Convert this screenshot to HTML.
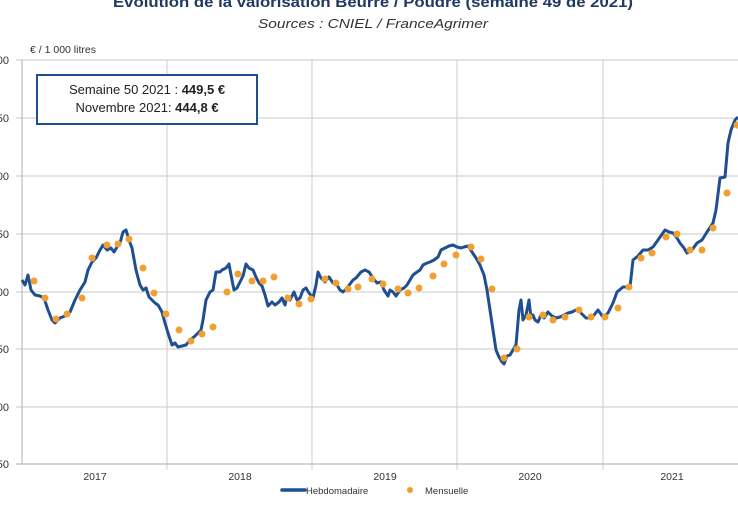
<!DOCTYPE html>
<html><head><meta charset="utf-8"><style>
html,body{margin:0;padding:0;background:#fff;}
svg{display:block;font-family:"Liberation Sans",sans-serif;}
</style></head><body>
<svg width="738" height="507" viewBox="0 0 738 507">
<text x="373" y="7" text-anchor="middle" font-size="14.5" font-weight="bold" fill="#1f3864" textLength="520" lengthAdjust="spacingAndGlyphs">Evolution de la valorisation Beurre / Poudre (semaine 49 de 2021)</text>
<text x="373" y="28" text-anchor="middle" font-size="13" font-style="italic" fill="#333" textLength="230" lengthAdjust="spacingAndGlyphs">Sources : CNIEL / FranceAgrimer</text>
<text x="30" y="53" font-size="10.5" fill="#333">€ / 1 000 litres</text>
<g stroke="#d4d4d4" stroke-width="1.2">
<line x1="16" y1="60" x2="738" y2="60"/><line x1="16" y1="118" x2="738" y2="118"/><line x1="16" y1="176" x2="738" y2="176"/><line x1="16" y1="234" x2="738" y2="234"/><line x1="16" y1="292" x2="738" y2="292"/><line x1="16" y1="349" x2="738" y2="349"/><line x1="16" y1="407" x2="738" y2="407"/>
<line x1="167" y1="60" x2="167" y2="470"/><line x1="312" y1="60" x2="312" y2="470"/><line x1="457" y1="60" x2="457" y2="470"/><line x1="603" y1="60" x2="603" y2="470"/>
</g>
<line x1="22" y1="60" x2="22" y2="464" stroke="#bbb" stroke-width="1.2"/>
<line x1="16" y1="464" x2="738" y2="464" stroke="#bbb" stroke-width="1.2"/>
<g font-size="11" fill="#333" text-anchor="end">
<text x="9" y="64">500</text><text x="9" y="122">450</text><text x="9" y="180">400</text><text x="9" y="238">350</text><text x="9" y="296">300</text><text x="9" y="353">250</text><text x="9" y="411">200</text><text x="9" y="468">150</text>
</g>
<g font-size="10.5" fill="#333" text-anchor="middle">
<text x="95" y="480">2017</text><text x="240" y="480">2018</text><text x="385" y="480">2019</text><text x="530" y="480">2020</text><text x="672" y="480">2021</text>
</g>
<line x1="282" y1="490" x2="305" y2="490" stroke="#1f4e91" stroke-width="3.5" stroke-linecap="round"/>
<text x="306" y="494" font-size="9.5" fill="#333">Hebdomadaire</text>
<circle cx="410" cy="490" r="3" fill="#f0a030"/>
<text x="425" y="494" font-size="9.5" fill="#333">Mensuelle</text>
<rect x="37" y="75" width="220" height="49" fill="#fff" stroke="#1f4e91" stroke-width="2"/>
<text x="147" y="94" text-anchor="middle" font-size="13" fill="#222">Semaine 50 2021 : <tspan font-weight="bold">449,5 €</tspan></text>
<text x="147" y="112" text-anchor="middle" font-size="13" fill="#222">Novembre 2021: <tspan font-weight="bold">444,8 €</tspan></text>
<polyline fill="none" stroke="#1f4e91" stroke-width="3" stroke-linejoin="round" points="22,280 25,285 28,275 31,290 35,295 40,296 44,298 48,310 52,320 55,323 60,318 65,316 70,312 75,300 80,290 85,282 88,270 92,262 96,258 100,250 103,245 107,250 111,248 114,252 117,247 120,243 123,232 126,230 129,240 132,248 136,270 140,285 143,290 146,288 149,297 152,300 155,303 158,305 162,312 165,323 168,333 172,345 175,343 178,347 182,346 186,345 190,340 194,337 198,333 201,330 203,320 206,300 210,292 213,290 216,272 220,272 222,270 226,268 229,264 231,275 234,290 237,288 240,282 243,276 246,264 249,268 253,270 256,277 259,283 262,286 265,295 268,306 272,302 275,305 279,302 282,298 285,305 287,296 290,300 294,292 297,300 300,298 303,290 306,288 309,293 313,298 316,285 318,272 321,278 325,282 329,277 333,283 337,285 340,290 343,292 347,288 350,284 353,280 356,278 361,272 365,270 369,272 373,278 377,283 381,282 384,290 388,296 390,290 393,292 396,296 400,290 404,288 407,285 410,280 413,275 417,272 420,270 423,265 427,263 430,262 434,260 438,257 441,250 445,248 449,246 453,245 457,247 461,248 464,247 468,246 472,252 476,258 480,265 484,275 487,290 490,310 493,330 496,350 499,357 502,362 504,364 507,356 510,355 513,350 516,345 519,310 521,300 523,320 526,315 529,300 531,318 533,315 535,320 538,322 541,315 544,318 548,312 552,316 556,318 560,317 564,315 568,313 572,312 576,310 579,311 582,314 586,318 590,318 594,315 598,310 603,317 608,313 613,303 617,292 623,287 630,287 633,260 638,256 643,250 648,250 653,247 658,240 665,230 669,232 673,233 677,238 680,243 684,248 687,253 692,250 697,243 702,240 707,232 713,223 716,210 720,178 725,177 728,143 731,130 735,120 738,117"/>
<g fill="#f0a030">
<circle cx="34" cy="281" r="3.5"/><circle cx="45" cy="298" r="3.5"/><circle cx="56" cy="319" r="3.5"/><circle cx="67" cy="314" r="3.5"/><circle cx="82" cy="298" r="3.5"/><circle cx="92" cy="258" r="3.5"/><circle cx="107" cy="245" r="3.5"/><circle cx="118" cy="244" r="3.5"/><circle cx="129" cy="239" r="3.5"/><circle cx="143" cy="268" r="3.5"/><circle cx="154" cy="293" r="3.5"/><circle cx="166" cy="314" r="3.5"/><circle cx="179" cy="330" r="3.5"/><circle cx="191" cy="341" r="3.5"/><circle cx="202" cy="334" r="3.5"/><circle cx="213" cy="327" r="3.5"/><circle cx="227" cy="292" r="3.5"/><circle cx="238" cy="274" r="3.5"/><circle cx="252" cy="281" r="3.5"/><circle cx="263" cy="281" r="3.5"/><circle cx="274" cy="277" r="3.5"/><circle cx="288" cy="298" r="3.5"/><circle cx="299" cy="304" r="3.5"/><circle cx="311" cy="299" r="3.5"/>
<circle cx="325" cy="279" r="3.5"/><circle cx="336" cy="283" r="3.5"/><circle cx="348" cy="289" r="3.5"/><circle cx="358" cy="287" r="3.5"/><circle cx="372" cy="279" r="3.5"/><circle cx="383" cy="284" r="3.5"/><circle cx="398" cy="289" r="3.5"/><circle cx="408" cy="293" r="3.5"/><circle cx="419" cy="288" r="3.5"/><circle cx="433" cy="276" r="3.5"/><circle cx="444" cy="264" r="3.5"/><circle cx="456" cy="255" r="3.5"/><circle cx="471" cy="247" r="3.5"/><circle cx="481" cy="259" r="3.5"/><circle cx="492" cy="289" r="3.5"/><circle cx="504" cy="358" r="3.5"/><circle cx="517" cy="349" r="3.5"/><circle cx="529" cy="317" r="3.5"/><circle cx="543" cy="315" r="3.5"/><circle cx="553" cy="320" r="3.5"/><circle cx="565" cy="317" r="3.5"/><circle cx="579" cy="310" r="3.5"/><circle cx="591" cy="317" r="3.5"/>
<circle cx="605" cy="317" r="3.5"/><circle cx="618" cy="308" r="3.5"/><circle cx="629" cy="287" r="3.5"/><circle cx="641" cy="258" r="3.5"/><circle cx="652" cy="253" r="3.5"/><circle cx="666" cy="237" r="3.5"/><circle cx="677" cy="234" r="3.5"/><circle cx="690" cy="250" r="3.5"/><circle cx="702" cy="250" r="3.5"/><circle cx="713" cy="228" r="3.5"/><circle cx="727" cy="193" r="3.5"/><circle cx="737" cy="125" r="3.5"/>
</g>
</svg>
</body></html>
